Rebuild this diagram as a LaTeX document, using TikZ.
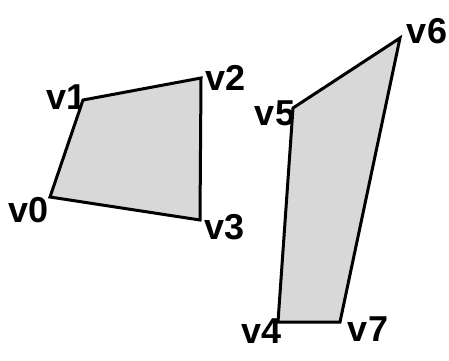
\documentclass[tikz,border=0pt]{standalone}
\usepackage{fontspec}
\setmainfont{Liberation Sans}
\begin{document}
\begin{tikzpicture}[x=0.5pt,y=-0.5pt]
		% Styles (MODIFIABLES)
		\tikzstyle{bord}=[black,line width=1.5pt,line join=miter]
		\tikzstyle{face}=[fill={rgb,255:red,216;green,216;blue,216}]
		\tikzstyle{etiquette}=[black,font=\fontsize{18}{21}\selectfont\bfseries,inner sep=0pt]
		% Cadre
		\useasboundingbox (0,0) rectangle (449,360);
		% Sommets (MODIFIABLES)
		\coordinate (v0) at (50,197);
		\coordinate (v1) at (83,100);
		\coordinate (v2) at (201,78);
		\coordinate (v3) at (200,220);
		\coordinate (v4) at (278,322);
		\coordinate (v5) at (293,108);
		\coordinate (v6) at (400,38);
		\coordinate (v7) at (340,322);
		% Etiquettes
		\node[etiquette] (E0) at (29,210) {v0};
		\node[etiquette] (E1) at (67,97) {v1};
		\node[etiquette] (E2) at (226,78) {v2};
		\node[etiquette] (E3) at (225,227) {v3};
		\node[etiquette] (E4) at (262,331) {v4};
		\node[etiquette] (E5) at (275,113) {v5};
		\node[etiquette] (E6) at (427,31) {v6};
		\node[etiquette] (E7) at (368,329) {v7};
		% Faces
		\fill[face] (v0)--(v1)--(v2)--(v3)--cycle;
		\fill[face] (v4)--(v5)--(v6)--(v7)--cycle;
		% Aretes
		\draw[bord] (v0)--(v1)--(v2)--(v3)--cycle;
		\draw[bord] (v4)--(v5)--(v6)--(v7)--cycle;
	\end{tikzpicture}
\end{document}
